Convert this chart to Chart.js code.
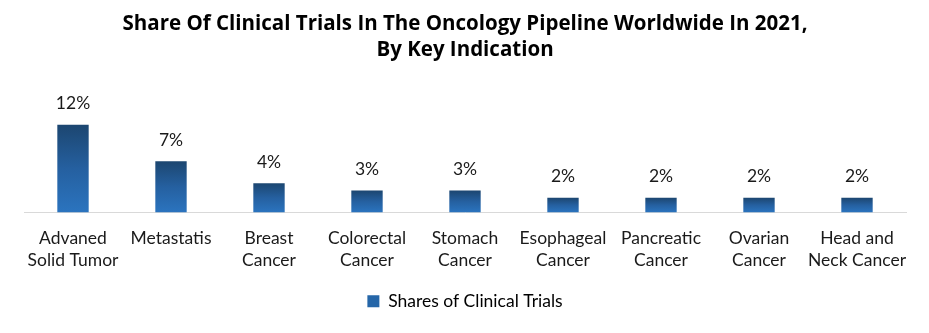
<!DOCTYPE html>
<html>
<head>
<meta charset="utf-8">
<script src="https://cdn.jsdelivr.net/npm/chart.js@4"></script>
<style>
  html, body { margin: 0; padding: 0; background: #ffffff; }
  #wrap { width: 929px; height: 333px; }
</style>
</head>
<body>
<div id="wrap"><canvas id="trialsChart"></canvas></div>
<script>
const categories = [
  ["Advaned", "Solid Tumor"],
  "Metastatis",
  ["Breast", "Cancer"],
  ["Colorectal", "Cancer"],
  ["Stomach", "Cancer"],
  ["Esophageal", "Cancer"],
  ["Pancreatic", "Cancer"],
  ["Ovarian", "Cancer"],
  ["Head and", "Neck Cancer"]
];
const shares = [12, 7, 4, 3, 3, 2, 2, 2, 2];
const seriesName = "Shares of Clinical Trials";

document.addEventListener("DOMContentLoaded", function () {
  const canvas = document.getElementById("trialsChart");

  // labels above each bar
  const valueLabels = {
    id: "valueLabels",
    afterDatasetsDraw(chart) {
      const ctx = chart.ctx;
      const meta = chart.getDatasetMeta(0);
      ctx.save();
      ctx.font = "17.5px Lato, 'Open Sans', sans-serif";
      ctx.fillStyle = "#1a1a1a";
      ctx.textAlign = "center";
      ctx.textBaseline = "middle";
      meta.data.forEach(function (bar, i) {
        ctx.fillText(shares[i] + "%", bar.x, bar.y - 21);
      });
      ctx.restore();
    }
  };

  function barGradient(context) {
    const chart = context.chart;
    if (!chart.chartArea || context.dataIndex === undefined) return "#2566a8";
    const y = chart.scales.y;
    const top = y.getPixelForValue(shares[context.dataIndex]);
    const bottom = y.getPixelForValue(0);
    const g = chart.ctx.createLinearGradient(0, top, 0, bottom);
    g.addColorStop(0, "#1c4670");
    g.addColorStop(0.5, "#2560a0");
    g.addColorStop(1, "#2b74bf");
    return g;
  }

  new Chart(canvas, {
    type: "bar",
    data: {
      labels: categories,
      datasets: [
        {
          label: seriesName,
          data: shares,
          backgroundColor: barGradient,
          categoryPercentage: 1.0,
          barPercentage: 0.32
        }
      ]
    },
    options: {
      responsive: true,
      maintainAspectRatio: false,
      animation: false,
      layout: { padding: { top: 11, left: 24, right: 23, bottom: 13 } },
      scales: {
        x: {
          grid: { display: false, drawTicks: false },
          border: { color: "#d9d9d9", width: 1 },
          ticks: {
            color: "#1a1a1a",
            font: { family: "Lato, 'Open Sans', sans-serif", size: 17.5, lineHeight: 1.26 },
            padding: 15,
            maxRotation: 0,
            autoSkip: false
          }
        },
        y: {
          display: false,
          min: 0,
          max: 14
        }
      },
      plugins: {
        title: {
          display: true,
          text: [
            "Share Of Clinical Trials In The Oncology Pipeline Worldwide In 2021,",
            "By Key Indication"
          ],
          color: "#000000",
          font: { family: "'Open Sans', sans-serif", size: 20.5, weight: "bold", lineHeight: 1.27 },
          padding: { top: 0, bottom: 47 }
        },
        legend: {
          position: "bottom",
          labels: {
            color: "#1a1a1a",
            font: { family: "Lato, 'Open Sans', sans-serif", size: 17.5 },
            boxWidth: 12,
            boxHeight: 12,
            padding: 6,
            generateLabels: function () {
              return [{ text: seriesName, fillStyle: "#2566a8", strokeStyle: "#2566a8", lineWidth: 0, datasetIndex: 0 }];
            }
          }
        },
        tooltip: { enabled: false }
      }
    },
    plugins: [valueLabels]
  });
});
</script>
</body>
</html>
